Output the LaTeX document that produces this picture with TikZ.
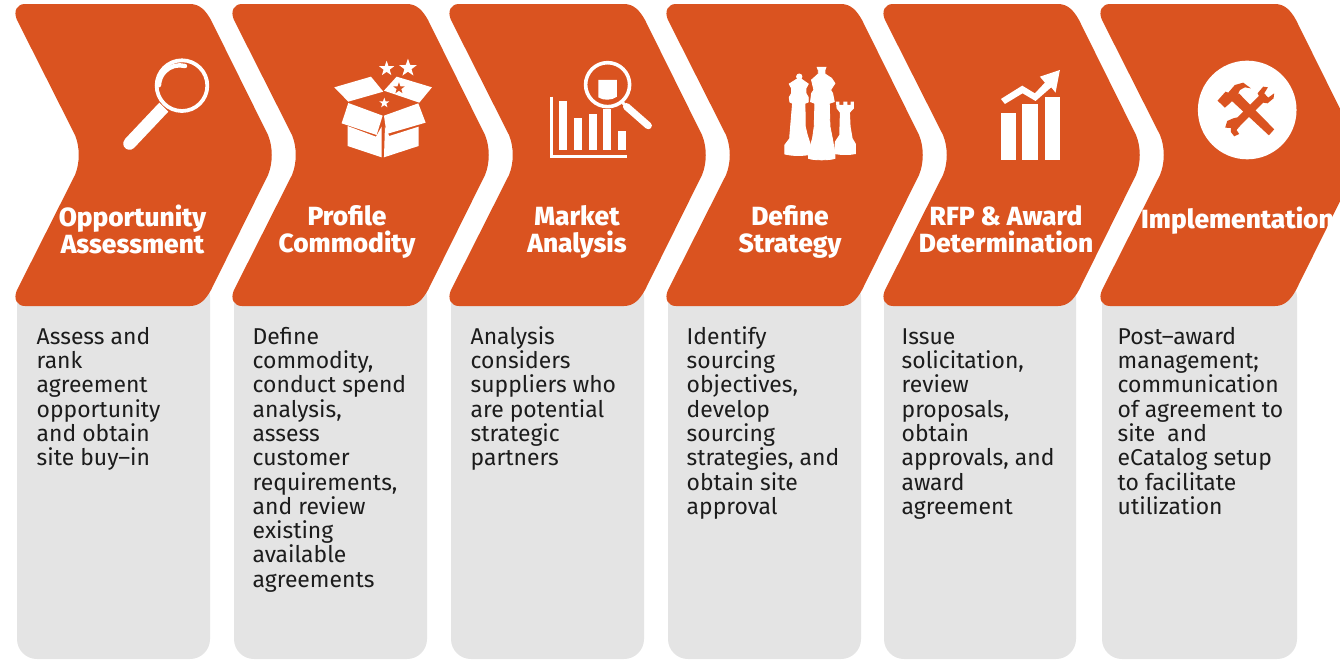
\documentclass[tikz,border=0pt]{standalone}
\usepackage{fontspec}
\setmainfont{Fira Sans}
\newfontfamily\headfont{Fira Sans ExtraBold}
\definecolor{orng}{HTML}{DA5320}
\definecolor{pale}{HTML}{E4E4E4}
\definecolor{ink}{HTML}{1C1C1C}
\tikzset{
  chevron/.style={fill=orng,draw=none},
  panel/.style={fill=pale,draw=none,rounded corners=20pt},
  heading/.style={text=white,align=center,anchor=north,inner sep=0pt,font=\headfont\fontsize{26.3}{27}\selectfont},
  bodytext/.style={text=ink,align=left,anchor=north west,inner sep=0pt,font=\fontsize{22.9}{24.3}\selectfont},
  icon/.style={fill=white,draw=none},
  chesspiece/.style={fill=white,draw=white,line width=0.9pt},
  iconline/.style={draw=white,fill=none},
  zoomed/.style={x=0.3333pt,y=-0.3333pt},
}
\newcommand{\firstline}{\rule{0pt}{20pt}}
\newcommand{\chevshape}[1]{%
  \path[chevron,shift={(#1,0)}] (10,4) -- (175,4)
    .. controls (185,4) and (191,11) .. (196,20)
    -- (253,135) .. controls (258,147) and (258,163) .. (253,175)
    -- (196,290) .. controls (191,299) and (185,306) .. (175,306)
    -- (10,306) .. controls (2,306) and (-2,299) .. (2,290)
    -- (60,175) .. controls (65,163) and (65,147) .. (60,135)
    -- (2,20) .. controls (-2,11) and (2,4) .. (10,4) -- cycle;}
\newcommand{\fivestar}[4]{%
  \path[fill=#4] ({#1+#3*sin(0)},{#2-#3*cos(0)})
  \foreach \k in {1,...,9}{ -- ({#1+(#3*(1-0.6*mod(\k,2)))*sin(36*\k)},{#2-(#3*(1-0.6*mod(\k,2)))*cos(36*\k)}) } -- cycle;}
\begin{document}
\begin{tikzpicture}[x=1pt,y=-1pt]
\useasboundingbox (0,0) rectangle (1340,659);
\fill[white] (0,0) rectangle (1340,659);
\clip (0,0) rectangle (1340,659);
% panels
\path[panel] (17,277) rectangle (210,659);
\path[panel] (234,277) rectangle (427,659);
\path[panel] (451,277) rectangle (644,659);
\path[panel] (668,277) rectangle (861,659);
\path[panel] (884,277) rectangle (1076,659);
\path[panel] (1102,277) rectangle (1297,659);
% chevrons
\chevshape{15}\chevshape{232}\chevshape{449}\chevshape{666}\chevshape{883}\chevshape{1100}
% headings
\node[heading] (h1) at (132.5,205) {\firstline Opportunity\\Assessment};
\node[heading] (h2) at (347,205) {\firstline Profile\\Commodity};
\node[heading] (h3) at (577,205) {\firstline Market\\Analysis};
\node[heading] (h4) at (790,205) {\firstline Define\\Strategy};
\node[heading] (h5) at (1006,205) {\firstline RFP \& Award\\Determination};
\node[heading,anchor=north west] (h6) at (1141,207) {\firstline Implementation};
% body
\node[bodytext] (b1) at (36.5,324) {\firstline Assess and\\rank\\agreement\\opportunity\\and obtain\\site buy–in};
\node[bodytext] (b2) at (252.5,324) {\firstline Define\\commodity,\\conduct spend\\analysis,\\assess\\customer\\requirements,\\and review\\existing\\available\\agreements};
\node[bodytext] (b3) at (470.5,324) {\firstline Analysis\\considers\\suppliers who\\are potential\\strategic\\partners};
\node[bodytext] (b4) at (686.5,324) {\firstline Identify\\sourcing\\objectives,\\develop\\sourcing\\strategies, and\\obtain site\\approval};
\node[bodytext] (b5) at (901.5,324) {\firstline Issue\\solicitation,\\review\\proposals,\\obtain\\approvals, and\\award\\agreement};
\node[bodytext] (b6) at (1117.5,324) {\firstline Post–award\\management;\\communication\\of agreement to\\site\ \ and\\eCatalog setup\\to facilitate\\utilization};
% icon 1: magnifier
\begin{scope}[zoomed]
\draw[iconline,line width=3.8pt] (546,257) circle (76);
\draw[iconline,line width=4.4pt,line cap=round] (555,198) arc (-75:-178:62);
\path[icon] (478,308) -- (505,335) -- (402,444) .. controls (392,453) and (378,450) .. (372,440) .. controls (368,430) and (370,422) .. (376,416) -- cycle;
\end{scope}
% icon 2: box
\begin{scope}[zoomed]
\path[icon] (1003,262) -- (1113,230) -- (1150,275) -- (1045,305) -- cycle;
\path[icon] (1152,272) -- (1190,230) -- (1296,262) -- (1258,308) -- cycle;
\path[icon] (1025,370) -- (1045,309) -- (1148,347) -- (1130,405) -- cycle;
\path[icon] (1152,347) -- (1255,310) -- (1277,368) -- (1160,402) -- cycle;
\path[icon] (1043,378) -- (1128,410) -- (1145,380) -- (1145,472) -- (1043,438) -- cycle;
\path[icon] (1155,380) -- (1168,408) -- (1256,380) -- (1256,438) -- (1152,472) -- cycle;
\fivestar{1160}{206}{24}{white}
\fivestar{1224}{204}{28}{white}
\fivestar{1197}{265}{18}{orng}
\fivestar{1153}{309}{16}{white}
\end{scope}
% icon 3: chart and magnifier
\begin{scope}[zoomed,shift={(1350,0)}]
\draw[iconline,line width=3pt] (304,290) -- (304,469) -- (530,469);
\path[icon] (327,303) rectangle (351,450);
\path[icon] (371,355) rectangle (395,450);
\path[icon] (416,343) rectangle (440,450);
\path[icon] (460,328) rectangle (484,450);
\path[icon] (505,392) rectangle (529,450);
\path[icon] (445,240) -- (501,240) -- (501,290) .. controls (485,302) and (460,302) .. (445,292) -- cycle;
\draw[iconline,line width=3.6pt] (473,254) circle (66);
\draw[iconline,line width=3pt] (518,308) -- (530,320);
\draw[iconline,line width=7.2pt,line cap=round] (530,320) -- (595,377);
\end{scope}
% icon 4: chess pieces
\begin{scope}[zoomed,shift={(2340,180)}]
\path[chesspiece] (58,50) circle (8);
\path[chesspiece] (65,58) -- (85,72) -- (78,85) -- (78,100) -- (85,112) -- (85,126) -- (75,130) -- (76,200) -- (82,225) -- (90,250) -- (95,282) .. controls (70,288) and (40,288) .. (15,282) -- (15,255) -- (30,235) -- (30,225) -- (38,130) -- (30,126) -- (28,112) -- (35,100) -- (35,85) -- (28,72) -- (50,58) -- cycle;
\path[chesspiece] (112,22) -- (138,22) -- (135,30) -- (135,42) -- (155,55) -- (165,70) -- (152,90) -- (158,100) -- (163,125) -- (148,130) -- (150,200) -- (158,240) -- (165,280) -- (165,295) .. controls (150,301) and (100,301) .. (86,295) -- (85,280) -- (98,235) -- (103,200) -- (105,130) -- (92,125) -- (95,100) -- (102,90) -- (95,60) -- (115,42) -- (115,30) -- cycle;
\path[icon] (168,125) -- (178,125) -- (178,135) -- (190,135) -- (190,125) -- (202,125) -- (202,135) -- (212,135) -- (212,125) -- (222,125) -- (222,145) -- (210,158) -- (212,200) -- (218,235) -- (228,252) -- (228,282) .. controls (210,286) and (185,286) .. (162,282) -- (165,245) -- (178,225) -- (180,158) -- (170,145) -- cycle;
\end{scope}
% icon 5: bars and arrow
\begin{scope}[zoomed,shift={(2670,0)}]
\path[icon] (333,339) rectangle (378,480);
\path[icon] (396,312) rectangle (444,480);
\path[icon] (465,291) rectangle (510,480);
\path[icon] (333,297) -- (397,257) -- (435,280) -- (465,248) -- (450,230) -- (510,210) -- (497,278) -- (484,262) -- (437,303) -- (398,280) -- (345,312) -- cycle;
\end{scope}
% icon 6: tools
\begin{scope}[zoomed,shift={(3585,180)}]
\path[icon] (157,150) circle (148);
\path[fill=orng] (188,100) -- (205,80) -- (219,82) -- (208,100) -- (220,113) -- (238,100) -- (236,115) -- (218,130) -- (205,128) -- (138,195) -- (125,210) -- (133,222) -- (118,229) -- (108,216) -- (108,204) -- (91,203) -- (97,183) -- (115,175) -- (128,172) -- (192,108) -- cycle;
\path[fill=orng] (132,100) -- (238,208) -- (222,226) -- (110,122) -- cycle;
\path[fill=orng] (68,122) -- (92,95) -- (100,98) -- (120,75) -- (145,68) -- (168,85) -- (150,82) -- (135,90) -- (128,105) -- (105,130) -- (90,143) -- cycle;
\end{scope}
\end{tikzpicture}
\end{document}
